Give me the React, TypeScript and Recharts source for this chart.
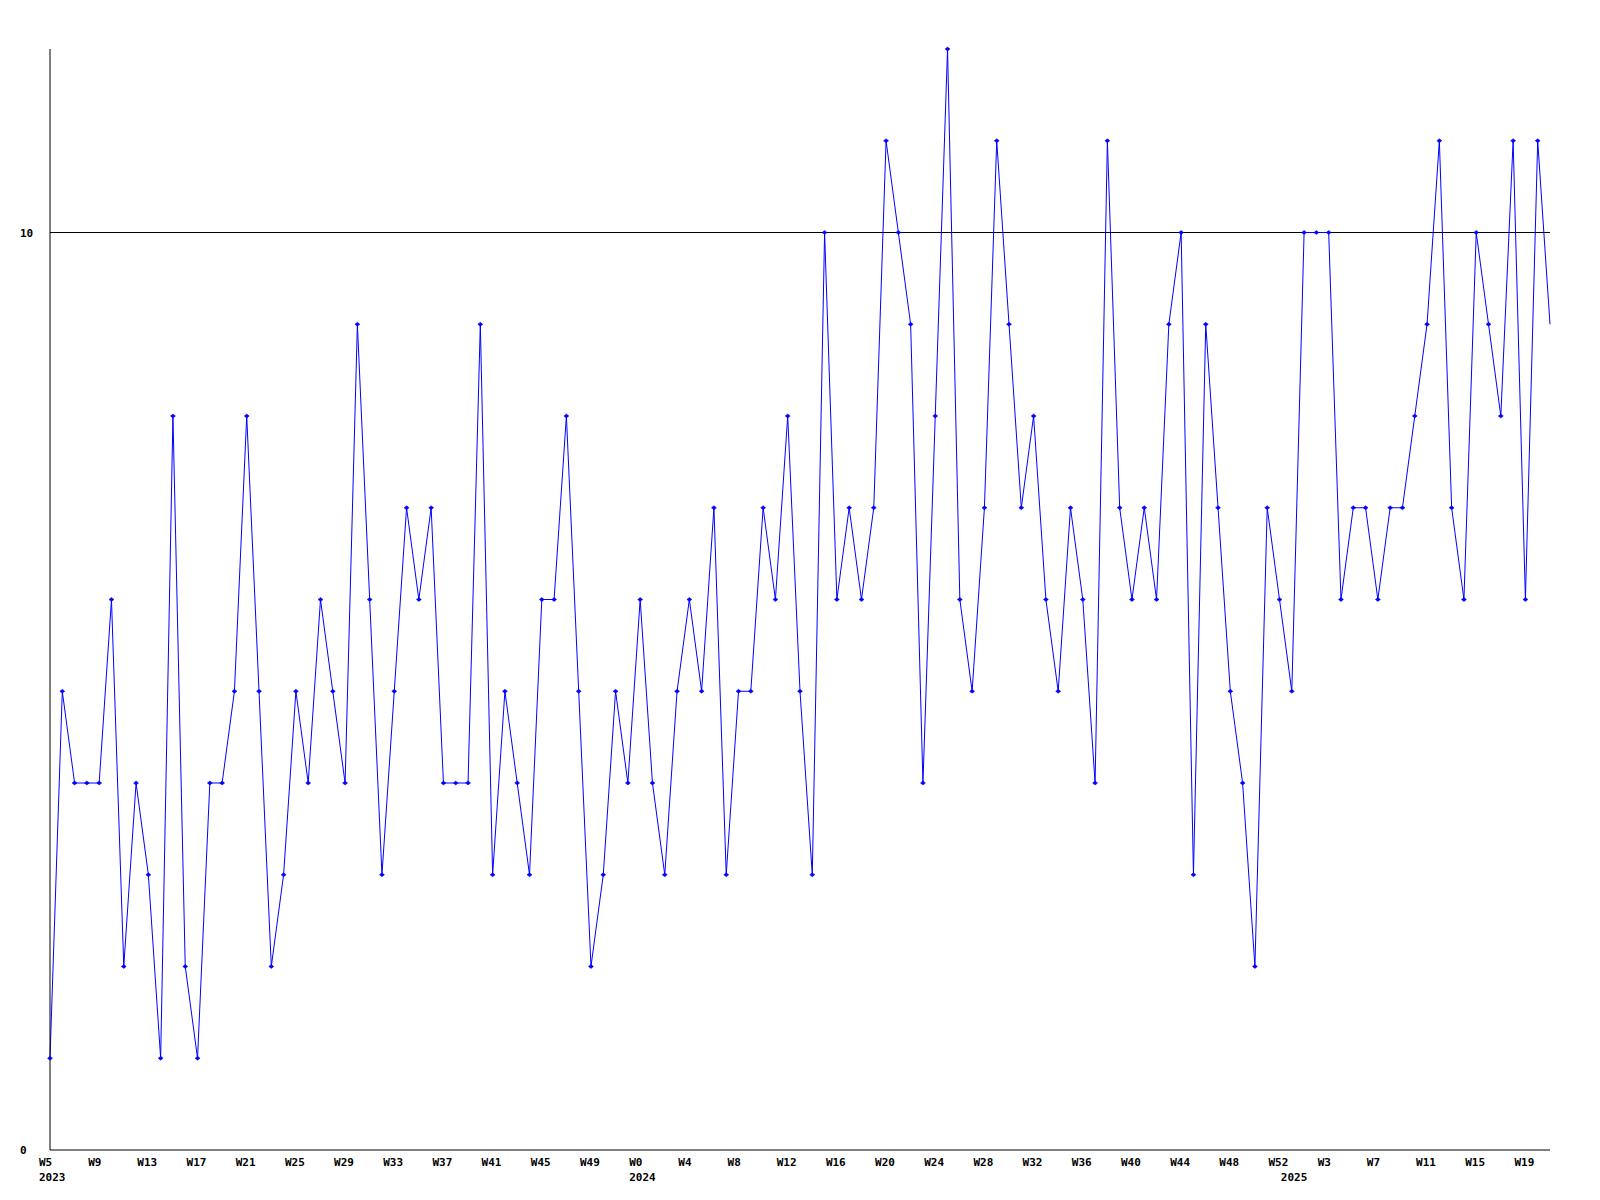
import { Line, LineChart, ReferenceLine, XAxis, YAxis } from "recharts";

// weekly values, 2023 W5 .. 2025 W21
const values = [
  1, 5, 4, 4, 4, 6, 2, 4, 3, 1, 8, 2, 1, 4, 4, 5, 8, 5, 2, 3, 5,
  4, 6, 5, 4, 9, 6, 3, 5, 7, 6, 7, 4, 4, 4, 9, 3, 5, 4, 3, 6,
  6, 8, 5, 2, 3, 5, 4, 6, 4, 3, 5, 6, 5, 7, 3, 5, 5, 7, 6, 8, 5,
  3, 10, 6, 7, 6, 7, 11, 10, 9, 4, 8, 12, 6, 5, 7, 11, 9, 7, 8, 6,
  5, 7, 6, 4, 11, 7, 6, 7, 6, 9, 10, 3, 9, 7, 5, 4, 2, 7, 6, 5,
  10, 10, 10, 6, 7, 7, 6, 7, 7, 8, 9, 11, 7, 6, 10, 9, 8, 11, 6, 11, 9,
];

const years = [2023, 2024, 2025];
const firstWeeks = [5, 0, 0];
const lastWeeks = [52, 52, 21];

const yTicks = [0, 10];
const referenceValue = 10;
const labelEvery = 4;

const categories: { key: string; week: number; year: number; yearStart: boolean }[] = [];
years.forEach((year, yi) => {
  for (let w = firstWeeks[yi]; w <= lastWeeks[yi]; w++) {
    categories.push({ key: `${year}-W${w}`, week: w, year, yearStart: w === firstWeeks[yi] });
  }
});

const data = categories.map((c, i) => ({ ...c, idx: i, value: values[i] }));

const tickKeys = data.filter((d) => d.idx % labelEvery === 0 || d.yearStart).map((d) => d.key);

const font = { fontFamily: "DejaVu Sans Mono", fontWeight: "bold" as const, fontSize: 11, fill: "#000" };

function XTick(props: any) {
  const { x, y, payload } = props;
  const item = data.find((d) => d.key === payload.value);
  if (!item) return null;
  return (
    <g>
      {item.idx % labelEvery === 0 ? (
        <text x={x - 11} y={y + 16} textAnchor="start" {...font}>
          {`W${item.week}`}
        </text>
      ) : null}
      {item.yearStart ? (
        <text x={x - 11} y={y + 31} textAnchor="start" {...font}>
          {item.year}
        </text>
      ) : null}
    </g>
  );
}

function YTick(props: any) {
  const { x, y, payload } = props;
  return (
    <text x={x - 30} y={y + 4} textAnchor="start" {...font}>
      {payload.value}
    </text>
  );
}

function Marker(props: any) {
  const { cx, cy, index } = props;
  if (index === data.length - 1 || cx == null) return <g key={index} />;
  return (
    <path
      key={index}
      d={`M${cx - 2.5},${cy} L${cx},${cy - 2} L${cx + 2.5},${cy} L${cx},${cy + 2} Z`}
      fill="#0000ff"
      stroke="#0000ff"
      strokeWidth={0.5}
    />
  );
}

export default function App() {
  return (
    <div style={{ position: "absolute", left: 0, top: 0, width: 1600, height: 1200, background: "#fff" }}>
      <LineChart width={1600} height={1200} data={data} margin={{ top: 49, right: 50, bottom: 10, left: 10 }}>
        <XAxis
          dataKey="key"
          ticks={tickKeys}
          interval={0}
          height={40}
          tickSize={0}
          tickMargin={0}
          tickLine={false}
          axisLine={{ stroke: "#000", strokeWidth: 1 }}
          tick={<XTick />}
        />
        <YAxis
          type="number"
          domain={[0, 12]}
          ticks={yTicks}
          width={40}
          tickSize={0}
          tickMargin={0}
          tickLine={false}
          axisLine={{ stroke: "#000", strokeWidth: 1 }}
          tick={<YTick />}
        />
        <ReferenceLine y={referenceValue} stroke="#000" strokeWidth={1} />
        <Line
          type="linear"
          dataKey="value"
          stroke="#0000ff"
          strokeWidth={1}
          dot={Marker}
          activeDot={false}
          isAnimationActive={false}
        />
      </LineChart>
    </div>
  );
}
